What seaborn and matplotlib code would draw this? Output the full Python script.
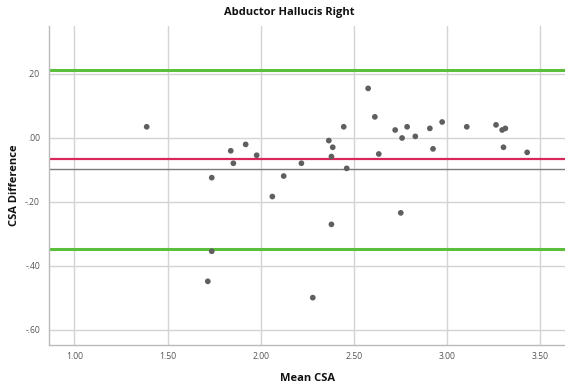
import matplotlib
matplotlib.use("Agg")
import matplotlib.pyplot as plt
import seaborn as sns
import pandas as pd

mean_csa = [1.388, 1.737, 1.737, 1.716, 1.839, 1.853, 1.919, 1.978, 2.062, 2.123,
            2.218, 2.279, 2.365, 2.379, 2.386, 2.379, 2.445, 2.461, 2.576, 2.612,
            2.633, 2.721, 2.751, 2.758, 2.785, 2.829, 2.907, 2.924, 2.973, 3.105,
            3.262, 3.295, 3.312, 3.302, 3.429]
csa_diff = [0.035, -0.124, -0.354, -0.448, -0.040, -0.079, -0.020, -0.054, -0.183, -0.119,
            -0.079, -0.499, -0.008, -0.058, -0.029, -0.270, 0.035, -0.095, 0.155, 0.066,
            -0.050, 0.025, -0.234, 0.000, 0.035, 0.005, 0.030, -0.034, 0.050, 0.035,
            0.041, 0.025, 0.030, -0.029, -0.045]

upper_loa = 0.214
mean_diff = -0.065
lower_loa = -0.346
ref_line = -0.098

x_ticks = [1.0, 1.5, 2.0, 2.5, 3.0, 3.5]
x_tick_labels = ["1.00", "1.50", "2.00", "2.50", "3.00", "3.50"]
y_ticks = [0.2, 0.0, -0.2, -0.4, -0.6]
y_tick_labels = [".20", ".00", "-.20", "-.40", "-.60"]

df = pd.DataFrame({"Mean CSA": mean_csa, "CSA Difference": csa_diff})

sns.set_style("white")
plt.rcParams["font.family"] = ["Open Sans", "DejaVu Sans"]

fig = plt.figure(figsize=(5.65, 3.88), dpi=100)
ax = fig.add_axes([49 / 565, 1 - 345 / 388, 1 - 49 / 565, (345 - 26) / 388])

ax.set_xlim(0.864, 3.632)
ax.set_ylim(-0.647, 0.35)

for xv in x_ticks:
    ax.axvline(xv, color="#d4d4d4", lw=1.0, zorder=0)
for yv in y_ticks:
    ax.axhline(yv, color="#d4d4d4", lw=1.0, zorder=0)

ax.axhline(upper_loa, color="#5cbf3c", lw=2.2, zorder=2)
ax.axhline(lower_loa, color="#5cbf3c", lw=2.2, zorder=2)
ax.axhline(mean_diff, color="#d8275a", lw=1.6, zorder=2)
ax.axhline(ref_line, color="#7a7a7a", lw=1.0, zorder=2)

sns.scatterplot(data=df, x="Mean CSA", y="CSA Difference", ax=ax,
                color="#5f5f5f", s=17, edgecolor="none", zorder=3)

ax.set_xticks(x_ticks)
ax.set_xticklabels(x_tick_labels)
ax.set_yticks(y_ticks)
ax.set_yticklabels(y_tick_labels)
ax.tick_params(axis="y", labelsize=6.2, colors="#bbbbbb", labelcolor="#555555",
               length=4.5, width=0.8, direction="out", pad=2)
ax.tick_params(axis="x", labelsize=6.2, colors="#bbbbbb", labelcolor="#555555",
               length=0, width=0.8, direction="out", pad=5)

for side in ["top", "right"]:
    ax.spines[side].set_visible(False)
for side in ["left", "bottom"]:
    ax.spines[side].set_color("#bbbbbb")
    ax.spines[side].set_linewidth(1.0)

ax.set_xlabel("Mean CSA", fontsize=8, fontweight="bold", color="#111111", labelpad=9)
ax.set_ylabel("CSA Difference", fontsize=8, fontweight="bold", color="#111111", labelpad=4)

fig.text(289 / 565, 1 - 12 / 388, "Abductor Hallucis Right", ha="center", va="center",
         fontsize=8, fontweight="bold", color="#111111")

fig.savefig("out.png", dpi=100)
